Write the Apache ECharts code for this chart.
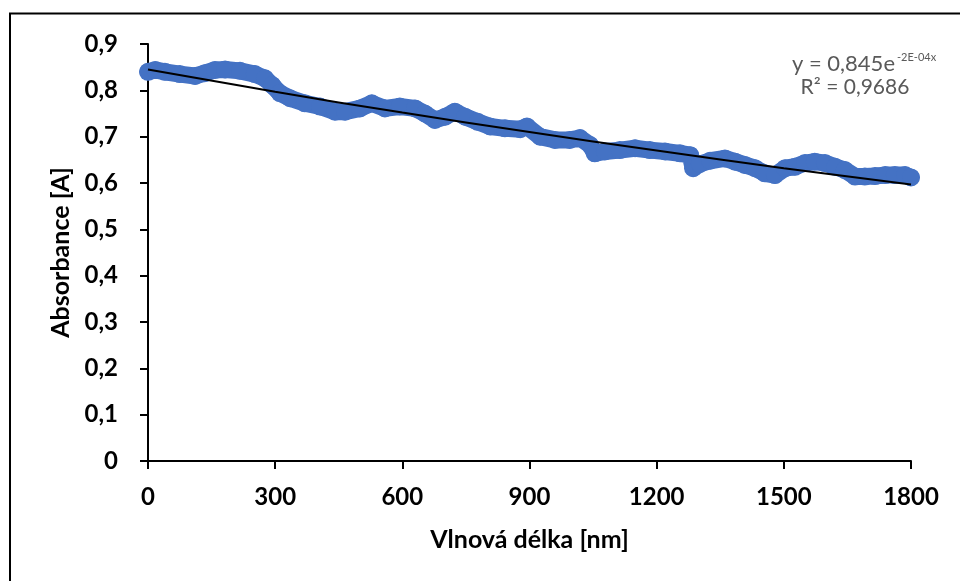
<!DOCTYPE html>
<html>
<head>
<meta charset="utf-8">
<script src="https://cdn.jsdelivr.net/npm/echarts@6/dist/echarts.min.js"></script>
<style>
html,body{margin:0;padding:0;background:#fff;}
#c{width:960px;height:581px;}
</style>
</head>
<body>
<div id="c"></div>
<script>
// Measured data (wavelength nm, absorbance A)
const wavelengths = [0,17,40,75,111,134,158,182,217,252,276,293,311,335,370,406,441,465,500,528,559,594,630,653,677,701,724,748,778,807,842,878,894,925,960,995,1019,1043,1054,1078,1113,1149,1184,1220,1255,1279,1286,1302,1326,1361,1385,1408,1432,1455,1479,1503,1526,1550,1573,1597,1621,1644,1668,1691,1715,1739,1762,1786,1800];
const absorbance = [0.840,0.844,0.840,0.835,0.831,0.837,0.844,0.845,0.842,0.835,0.826,0.811,0.794,0.783,0.772,0.765,0.754,0.754,0.761,0.772,0.761,0.765,0.761,0.750,0.736,0.743,0.754,0.743,0.732,0.722,0.718,0.716,0.722,0.700,0.693,0.693,0.697,0.682,0.664,0.668,0.671,0.675,0.671,0.668,0.664,0.660,0.632,0.641,0.648,0.653,0.646,0.639,0.632,0.621,0.617,0.632,0.635,0.643,0.646,0.643,0.635,0.628,0.614,0.614,0.615,0.617,0.617,0.617,0.612];
// Trendline values
const trendX = [0,300,600,900,1200,1500,1800];
const trendY = [0.845,0.797,0.752,0.710,0.670,0.632,0.597];
// Tick labels
const yTickLabels = ['0','0,1','0,2','0,3','0,4','0,5','0,6','0,7','0,8','0,9'];
const xTickLabels = ['0','300','600','900','1200','1500','1800'];
const yTitle = 'Absorbance [A]';
const xTitle = 'Vlnová délka [nm]';
const eqMain = 'y = 0,845e';
const eqSup = '-2E-04x';
const eqR2 = 'R² = 0,9686';

const measured = wavelengths.map((w,i)=>[w, absorbance[i]]);
const trend = trendX.map((w,i)=>[w, trendY[i]]);

const chart = echarts.init(document.getElementById('c'), null, {renderer:'canvas'});
const FONT = 'Lato, "Noto Sans", sans-serif';
chart.setOption({
  animation:false,
  backgroundColor:'#fff',
  grid:{left:148,right:49,top:44,bottom:120,containLabel:false},
  xAxis:{
    type:'value',min:0,max:1800,interval:300,
    name:xTitle,nameLocation:'middle',nameGap:66,
    nameTextStyle:{fontFamily:FONT,fontWeight:'bold',fontSize:25,color:'#000'},
    axisLine:{onZero:false,lineStyle:{color:'#000',width:2}},
    axisTick:{show:true,length:8,lineStyle:{color:'#000',width:2}},
    axisLabel:{margin:24,fontFamily:FONT,fontWeight:'bold',fontSize:24,color:'#000',
      formatter:(v,i)=>xTickLabels[i]},
    splitLine:{show:false}
  },
  yAxis:{
    type:'value',min:0,max:0.9,interval:0.1,
    name:yTitle,nameLocation:'middle',nameGap:73,
    nameTextStyle:{fontFamily:FONT,fontWeight:'bold',fontSize:25,color:'#000'},
    axisLine:{show:true,lineStyle:{color:'#000',width:2}},
    axisTick:{show:true,length:8,lineStyle:{color:'#000',width:2}},
    axisLabel:{margin:30,fontFamily:FONT,fontWeight:'bold',fontSize:24,color:'#000',
      formatter:(v,i)=>yTickLabels[i]},
    splitLine:{show:false}
  },
  series:[
    {
      type:'line',data:measured,showSymbol:true,showAllSymbol:true,symbol:'circle',symbolSize:18,
      itemStyle:{color:'#4472C4'},
      lineStyle:{color:'#4472C4',width:17,cap:'round',join:'round'},
      z:2,silent:true
    },
    {
      type:'line',data:trend,showSymbol:false,smooth:true,
      lineStyle:{color:'#000',width:2},
      z:3,silent:true
    }
  ],
  graphic:[
    {type:'rect',shape:{x:10,y:13.5,width:1200,height:1200},style:{fill:null,stroke:'#000',lineWidth:2},z:100,silent:true},
    {type:'text',x:895,y:64,style:{text:eqMain,fontFamily:FONT,fontSize:22,fill:'#595959',align:'right',verticalAlign:'middle'}},
    {type:'text',x:897,y:57,style:{text:eqSup,fontFamily:FONT,fontSize:11,fill:'#595959',align:'left',verticalAlign:'middle'}},
    {type:'text',x:855,y:87,style:{text:eqR2,fontFamily:FONT,fontSize:21,fill:'#595959',align:'center',verticalAlign:'middle'}}
  ]
});
</script>
</body>
</html>
